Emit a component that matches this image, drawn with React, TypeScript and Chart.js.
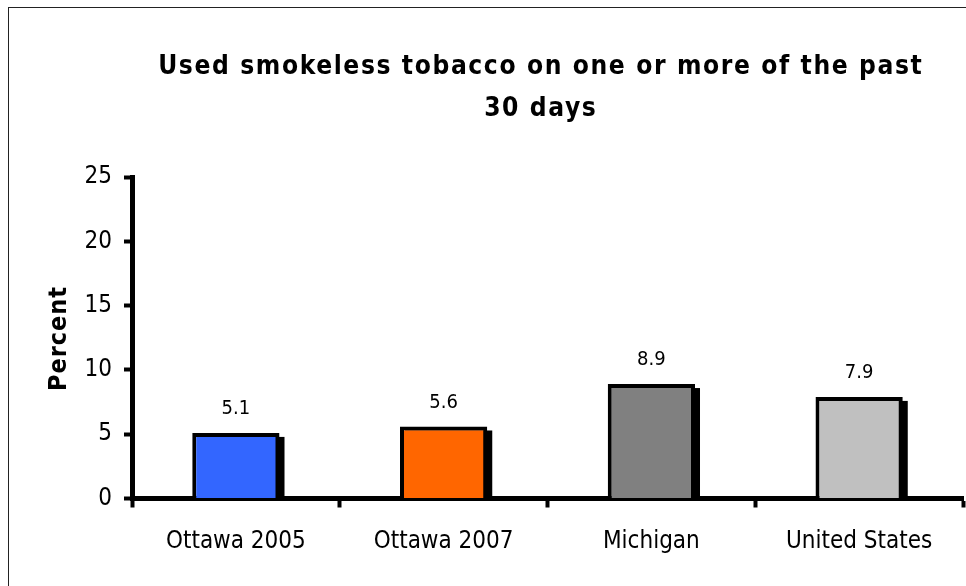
import React, { useEffect, useRef } from "react";
import { Chart, registerables } from "chart.js";

Chart.register(...registerables);

const categories = ["Ottawa 2005", "Ottawa 2007", "Michigan", "United States"];
const values = [5.1, 5.6, 8.9, 7.9];
const barColors = ["#3366FF", "#FF6600", "#808080", "#C0C0C0"];
const yTicks = [0, 5, 10, 15, 20, 25];
const titleLines = ["Used smokeless tobacco on one or more of the past", "30 days"];
const yTitle = "Percent";

const FONT = '"Liberation Sans Narrow", "Arial Narrow", "DejaVu Sans Condensed", sans-serif';

const textPlugin = {
  id: "customText",
  beforeDatasetsDraw(chart: any) {
    const ctx = chart.ctx;
    ctx.save();
    ctx.fillStyle = "#000";
    chart.getDatasetMeta(0).data.forEach((el: any) => {
      const { x, y, base, width } = el.getProps(["x", "y", "base", "width"], true);
      ctx.fillRect(x - width / 2 + 5, y + 4, width, base - y - 4);
    });
    ctx.restore();
  },
  afterDatasetsDraw(chart: any) {
    const ctx = chart.ctx;
    ctx.save();
    ctx.fillStyle = "#000";
    ctx.textAlign = "center";
    ctx.textBaseline = "middle";
    ctx.font = `20px ${FONT}`;
    chart.getDatasetMeta(0).data.forEach((el: any, i: number) => {
      const { x, y } = el.getProps(["x", "y"], true);
      ctx.fillText(values[i].toFixed(1), x, y - 24);
    });
    ctx.restore();
  },
  afterDraw(chart: any) {
    const ctx = chart.ctx;
    ctx.save();
    ctx.fillStyle = "#000";
    ctx.textBaseline = "alphabetic";
    // title: fixed letter spacing, font size chosen to fit the reference width
    const ls = 1.6;
    ctx.letterSpacing = "0px";
    ctx.font = `bold 30px ${FONT}`;
    const w30 = ctx.measureText(titleLines[0]).width;
    const size = (30 * (764 - ls * (titleLines[0].length - 1))) / w30;
    ctx.font = `bold ${size}px ${FONT}`;
    ctx.letterSpacing = `${ls}px`;
    ctx.textAlign = "center";
    ctx.fillText(titleLines[0], 531 + ls / 2, 66);
    ctx.fillText(titleLines[1], 531 + ls / 2, 108);
    // y title
    ctx.font = `bold 25px ${FONT}`;
    ctx.letterSpacing = "0px";
    const w1 = ctx.measureText(yTitle).width;
    const ls2 = Math.max(0, (104 - w1) / (yTitle.length - 1));
    ctx.letterSpacing = `${ls2}px`;
    ctx.translate(57, 331);
    ctx.rotate(-Math.PI / 2);
    ctx.fillText(yTitle, ls2 / 2, 0);
    ctx.restore();
  },
};

export default function App() {
  const ref = useRef<HTMLCanvasElement | null>(null);
  useEffect(() => {
    if (!ref.current) return;
    const chart = new Chart(ref.current, {
      type: "bar",
      data: {
        labels: categories,
        datasets: [
          {
            data: values,
            backgroundColor: barColors,
            borderColor: "#000",
            borderWidth: 4,
            borderSkipped: "bottom",
            categoryPercentage: 1,
            barPercentage: 0.42,
          },
        ],
      },
      options: {
        responsive: false,
        animation: false,
        devicePixelRatio: 1,
        layout: { padding: { top: 169, left: 0, right: 3, bottom: 0 } },
        plugins: {
          legend: { display: false },
          tooltip: { enabled: false },
          title: { display: false },
        },
        scales: {
          x: {
            z: 1,
            border: { color: "#000", width: 5 },
            grid: {
              display: true,
              drawOnChartArea: false,
              drawTicks: true,
              tickLength: 9,
              tickWidth: 4,
              tickColor: "#000",
              color: "#000",
              offset: true,
            },
            ticks: {
              color: "#000",
              font: { family: FONT, size: 24 },
              padding: 20,
              maxRotation: 0,
              autoSkip: false,
            },
            afterFit: (s: any) => {
              s.height = 87.5;
            },
          },
          y: {
            min: 0,
            max: 25,
            border: { color: "#000", width: 5 },
            grid: {
              drawOnChartArea: false,
              tickLength: 8,
              tickWidth: 4,
              tickColor: "#000",
              color: "#000",
            },
            ticks: {
              color: "#000",
              font: { family: FONT, size: 24 },
              padding: 12,
            },
            afterBuildTicks: (s: any) => {
              s.ticks = yTicks.map((v) => ({ value: v }));
            },
            afterFit: (s: any) => {
              s.width = 123;
            },
          },
        },
      },
      plugins: [textPlugin],
    });
    return () => chart.destroy();
  }, []);

  return (
    <div
      style={{
        position: "absolute",
        left: 8,
        top: 7,
        width: 958,
        height: 579,
        boxSizing: "border-box",
        borderLeft: "1px solid #222",
        borderTop: "1px solid #222",
        background: "#fff",
      }}
    >
      <canvas ref={ref} width={957} height={578} style={{ display: "block" }} />
    </div>
  );
}
